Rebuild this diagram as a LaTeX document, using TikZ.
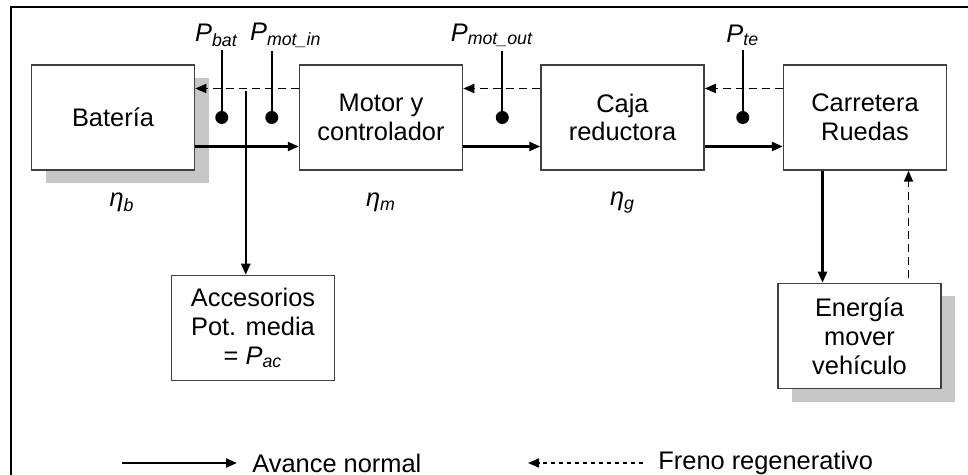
\documentclass[tikz,border=0pt]{standalone}
\usepackage{fontspec}
\setmainfont{Liberation Sans}
\usetikzlibrary{arrows.meta,positioning,shadows}
\newcommand{\pw}[1]{\textit{P}\textsubscript{\textit{#1}}}
\newcommand{\eff}[1]{\textit{η}\textsubscript{\textit{#1}}}

\begin{document}
\begin{tikzpicture}[x=0.5pt, y=-0.5pt, >={Triangle[length=5.5pt,width=4.5pt]},
  box/.style={draw=black!75, line width=0.75pt, fill=white, align=center,
    font=\fontsize{12.7}{14.4}\selectfont, minimum width=81.5pt,
    minimum height=52.5pt, inner sep=2pt},
  shadowed/.style={drop shadow={shadow xshift=7pt, shadow yshift=-6.5pt,
    fill=black!22, opacity=1}},
  lbl/.style={font=\fontsize{12.7}{14.4}\selectfont, inner sep=1.5pt},
  flow/.style={->, line width=1.2pt},
  regen/.style={->, line width=0.85pt, dash pattern=on 4pt off 2.5pt},
  tick/.style={line width=0.85pt},
  dot/.style={circle, fill, inner sep=0pt, minimum size=6.5pt}]
  \useasboundingbox (0,0) rectangle (968,475);
  \draw[line width=1pt] (11,475) -- (11,7) -- (968,7);

  % main chain
  \node[box, shadowed] (bat) at (113,117.5) {Batería};
  \node[box, right=51.75pt of bat] (mot) {Motor y\\controlador};
  \node[box, right=38.5pt of mot] (caja) {Caja\\reductora};
  \node[box, right=39pt of caja] (carr) {Carretera\\Ruedas};
  \node[box, below=52pt of bat, xshift=70pt] (acc) {Accesorios\\Pot. media\\= \pw{ac}};
  \node[box, shadowed, below=56pt of carr, xshift=-2.75pt] (ene) {Energía\\mover\\vehículo};

  \node[lbl] (etab) at ([xshift=4.5pt, yshift=-16pt]bat.south) {\eff{b}};
  \node[lbl] (etam) at ([yshift=-16pt]mot.south) {\eff{m}};
  \node[lbl] (etag) at ([yshift=-16pt]caja.south) {\eff{g}};

  % normal flow
  \draw[flow] ([yshift=-14.5pt]bat.east) -- ([yshift=-14.5pt]mot.west);
  \draw[flow] ([yshift=-14.5pt]mot.east) -- ([yshift=-14.5pt]caja.west);
  \draw[flow] ([yshift=-14.5pt]caja.east) -- ([yshift=-14.5pt]carr.west);
  \coordinate (tap) at ([xshift=25.25pt, yshift=13pt]bat.east);
  \draw[flow] (tap) -- (tap |- acc.north);
  \draw[flow] ([xshift=-21.25pt]carr.south) -- ([xshift=-21.25pt]carr.south |- ene.north);

  % regenerative braking
  \draw[regen] ([yshift=14.5pt]mot.west) -- ([yshift=14.5pt]bat.east);
  \draw[regen] ([yshift=14.5pt]caja.west) -- ([yshift=14.5pt]mot.east);
  \draw[regen] ([yshift=14.5pt]carr.west) -- ([yshift=14.5pt]caja.east);
  \draw[regen] ([xshift=21.75pt, yshift=2.5pt]carr.south |- ene.north) -- ([xshift=21.75pt]carr.south);

  % measuring points
  \node[dot] (dbat) at ([xshift=13.25pt]bat.east) {};
  \node[dot] (dmin) at ([xshift=38.25pt]bat.east) {};
  \node[dot] (dmout) at ([xshift=19.5pt]mot.east) {};
  \node[dot] (dte) at ([xshift=19pt]caja.east) {};
  \node[lbl] (pbat) at ([xshift=-2.5pt, yshift=41pt]dbat) {\pw{bat}};
  \node[lbl] (pmin) at ([xshift=7pt, yshift=41pt]dmin) {\pw{mot\_in}};
  \node[lbl] (pmout) at ([xshift=-5pt, yshift=41pt]dmout) {\pw{mot\_out}};
  \node[lbl] (pte) at ([yshift=41pt]dte) {\pw{te}};
  \draw[tick] (pbat.south -| dbat) -- (dbat);
  \draw[tick] (pmin.south -| dmin) -- (dmin);
  \draw[tick] (pmout.south -| dmout) -- (dmout);
  \draw[tick] (pte.south -| dte) -- (dte);

  % legend
  \node[lbl, anchor=west] (avance) at (249,463) {Avance normal};
  \node[lbl, anchor=west] (freno) at (655,463) {Freno regenerativo};
  \coordinate (avs) at (122,463);
  \coordinate (frs) at (528,463);
  \draw[flow] (avs) -- ([xshift=-6pt]avance.west);
  \draw[regen, dash pattern=on 2pt off 2pt] ([xshift=-6pt]freno.west) -- (frs);
\end{tikzpicture}
\end{document}
